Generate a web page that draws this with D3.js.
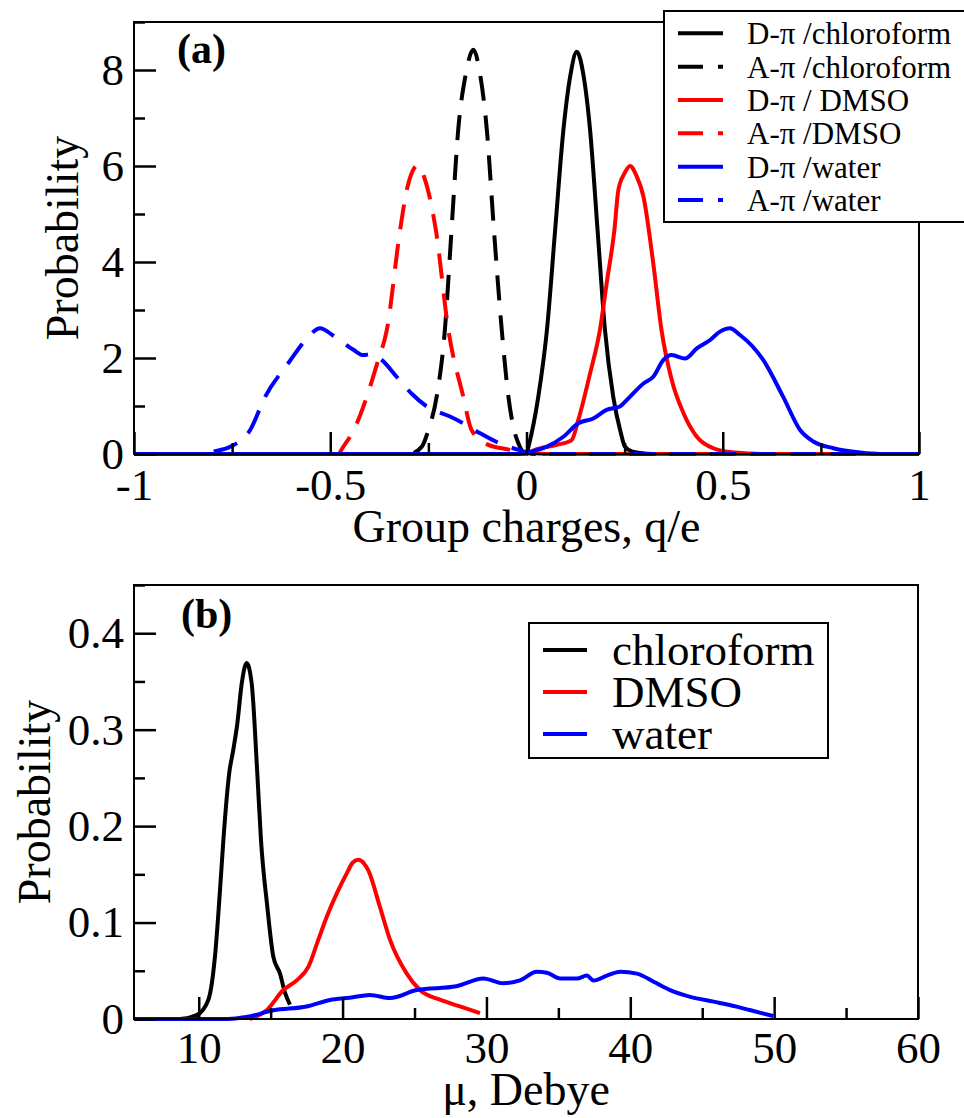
<!DOCTYPE html>
<html>
<head>
<meta charset="utf-8">
<script src="https://cdn.jsdelivr.net/npm/d3@7"></script>
<style>
  body { margin: 0; background: #fff; }
  svg { display: block; }
</style>
</head>
<body>
<svg width="964" height="1118"></svg>
<script>
const width = 964;
const height = 1118;
const serif = "'Liberation Serif', 'Times New Roman', serif";

// panel (a): group charge distributions [q/e, probability]
const dpiChloroform = [[-1,0],[0,0],[0.005,0.15],[0.03,1.19],[0.052,2.58],[0.073,4.67],[0.094,6.75],[0.112,7.9],[0.128,8.38],[0.145,7.9],[0.162,6.75],[0.181,4.67],[0.2,2.58],[0.221,1.19],[0.24,0.45],[0.251,0.15],[0.27,0.05],[0.29,0.02],[0.32,0],[1,0]];
const apiChloroform = [[-1,0],[-0.3,0],[-0.267,0.15],[-0.25,0.5],[-0.229,1.19],[-0.208,2.58],[-0.191,4.67],[-0.174,6.75],[-0.155,7.9],[-0.1355,8.42],[-0.118,7.9],[-0.101,6.75],[-0.083,4.67],[-0.063,2.58],[-0.046,1.19],[-0.033,0.55],[-0.021,0.23],[-0.005,0.02],[0.01,0],[1,0]];
const dpiDmso = [[-1,0],[0,0],[0.02,0.08],[0.077,0.19],[0.115,0.29],[0.132,0.71],[0.162,1.68],[0.187,2.58],[0.205,3.6],[0.224,4.67],[0.234,5.5],[0.25,5.85],[0.264,6.0],[0.28,5.8],[0.298,5.36],[0.323,3.97],[0.344,2.58],[0.37,1.54],[0.4,0.85],[0.434,0.36],[0.476,0.12],[0.53,0.03],[0.6,0],[1,0]];
const apiDmso = [[-1,0],[-0.48,0],[-0.467,0.15],[-0.44,0.5],[-0.407,1.19],[-0.38,1.9],[-0.356,2.58],[-0.322,4.67],[-0.305,5.5],[-0.29,5.9],[-0.276,6.02],[-0.26,5.75],[-0.231,4.67],[-0.199,2.58],[-0.161,1.19],[-0.14,0.5],[-0.1,0.2],[-0.05,0.1],[0,0.03],[0.05,0],[1,0]];
const dpiWater = [[-1,0],[-0.02,0],[0,0.03],[0.051,0.15],[0.094,0.36],[0.132,0.64],[0.17,0.74],[0.204,0.92],[0.238,0.99],[0.255,1.12],[0.298,1.47],[0.323,1.61],[0.349,1.96],[0.37,2.06],[0.404,1.99],[0.434,2.2],[0.468,2.375],[0.493,2.55],[0.518,2.62],[0.544,2.48],[0.575,2.25],[0.603,1.96],[0.654,1.19],[0.697,0.5],[0.731,0.26],[0.782,0.12],[0.85,0.03],[0.9,0],[1,0]];
const apiWater = [[-1,0],[-0.83,0],[-0.8,0.05],[-0.755,0.15],[-0.704,0.5],[-0.666,1.19],[-0.607,1.89],[-0.56,2.4],[-0.526,2.62],[-0.493,2.47],[-0.441,2.17],[-0.416,2.06],[-0.395,2.08],[-0.369,1.96],[-0.331,1.61],[-0.293,1.26],[-0.254,0.99],[-0.195,0.78],[-0.161,0.64],[-0.118,0.43],[-0.068,0.22],[-0.017,0.08],[0.02,0],[1,0]];

// panel (b): dipole moment distributions [Debye, probability]
const muChloroform = [[5.5,0],[8.7,0],[9.86,0.004],[10.67,0.02],[11.13,0.065],[11.48,0.134],[11.71,0.185],[12.12,0.255],[12.4,0.279],[12.68,0.306],[12.99,0.348],[13.33,0.369],[13.68,0.348],[14.07,0.255],[14.33,0.185],[14.77,0.116],[15.18,0.065],[15.65,0.047],[16.0,0.027],[16.34,0.015]];
const muDmso = [[13.56,0],[14.72,0.009],[15.88,0.03],[16.81,0.04],[17.62,0.054],[18.31,0.082],[18.9,0.106],[19.59,0.13],[20.29,0.151],[20.7,0.162],[21.1,0.165],[21.5,0.161],[21.79,0.154],[22.6,0.116],[23.3,0.082],[24.46,0.047],[25.38,0.03],[26.77,0.02],[28.16,0.013],[29.55,0.006]];
const muWater = [[5.5,0],[12,0],[13.3,0.002],[15.18,0.009],[17.5,0.013],[19.13,0.0197],[20.5,0.022],[21.9,0.025],[23.3,0.0217],[25.15,0.03],[27.9,0.034],[29.78,0.042],[31.17,0.037],[32.33,0.04],[33.5,0.049],[34.2,0.048],[35.13,0.042],[36.29,0.042],[36.98,0.045],[37.45,0.04],[38.38,0.045],[39.3,0.049],[40.46,0.047],[41.62,0.0387],[42.77,0.03],[44.17,0.023],[45.79,0.018],[47.4,0.0128],[48.3,0.0093],[49.94,0.003]];

// ticks
const xMajorA = [-1, -0.5, 0, 0.5, 1];
const xMinorA = [-0.75, -0.25, 0.25, 0.75];
const yMajorA = [0, 2, 4, 6, 8];
const yMinorA = [1, 3, 5, 7, 9];
const xMajorB = [10, 20, 30, 40, 50, 60];
const xMinorB = [15, 25, 35, 45, 55];
const yMajorB = [0, 0.1, 0.2, 0.3, 0.4];
const yMinorB = [0.05, 0.15, 0.25, 0.35, 0.45];

const seriesA = [
  { name: "D-\u03c0 /chloroform", data: dpiChloroform, color: "#000", dash: null },
  { name: "A-\u03c0 /chloroform", data: apiChloroform, color: "#000", dash: "25,15" },
  { name: "D-\u03c0 / DMSO", data: dpiDmso, color: "#f00", dash: null },
  { name: "A-\u03c0 /DMSO", data: apiDmso, color: "#f00", dash: "25,15" },
  { name: "D-\u03c0 /water", data: dpiWater, color: "#00f", dash: null },
  { name: "A-\u03c0 /water", data: apiWater, color: "#00f", dash: "25,15" }
];
const seriesB = [
  { name: "chloroform", data: muChloroform, color: "#000" },
  { name: "DMSO", data: muDmso, color: "#f00" },
  { name: "water", data: muWater, color: "#00f" }
];

const svg = d3.select("svg").attr("viewBox", `0 0 ${width} ${height}`);

function drawPanel(opt) {
  const x = d3.scaleLinear().domain(opt.xDomain).range([opt.left, opt.right]);
  const y = d3.scaleLinear().domain(opt.yDomain).range([opt.bottom, opt.top]);
  const g = svg.append("g");

  g.append("clipPath").attr("id", opt.id)
    .append("rect")
    .attr("x", opt.left).attr("y", opt.top)
    .attr("width", opt.right - opt.left).attr("height", opt.bottom - opt.top + 3);

  const line = d3.line().x(d => x(d[0])).y(d => y(d[1])).curve(d3.curveMonotoneX);

  g.append("g").attr("clip-path", `url(#${opt.id})`)
    .selectAll("path")
    .data(opt.series)
    .join("path")
    .attr("d", d => line(d.data))
    .attr("fill", "none")
    .attr("stroke", d => d.color)
    .attr("stroke-width", 4)
    .attr("stroke-linejoin", "round")
    .attr("stroke-dasharray", d => d.dash);

  // frame
  g.append("rect")
    .attr("x", opt.left).attr("y", opt.top)
    .attr("width", opt.right - opt.left).attr("height", opt.bottom - opt.top)
    .attr("fill", "none").attr("stroke", "#000").attr("stroke-width", 2);

  const styleAxis = sel => {
    sel.select(".domain").remove();
    sel.selectAll(".tick line").attr("stroke", "#000").attr("stroke-width", 2.5);
    sel.selectAll("text").attr("font-family", serif).attr("font-size", 45).attr("fill", "#000");
  };

  g.append("g").attr("transform", `translate(0,${opt.bottom})`)
    .call(d3.axisBottom(x).tickValues(opt.xMajor).tickSizeInner(-22).tickSizeOuter(0)
      .tickPadding(opt.xPad).tickFormat(opt.xFormat))
    .call(styleAxis);
  g.append("g").attr("transform", `translate(0,${opt.bottom})`)
    .call(d3.axisBottom(x).tickValues(opt.xMinor).tickSizeInner(-11).tickSizeOuter(0).tickFormat(""))
    .call(styleAxis);
  g.append("g").attr("transform", `translate(${opt.left},0)`)
    .call(d3.axisLeft(y).tickValues(opt.yMajor).tickSizeInner(-22).tickSizeOuter(0)
      .tickPadding(10).tickFormat(opt.yFormat))
    .call(styleAxis);
  g.append("g").attr("transform", `translate(${opt.left},0)`)
    .call(d3.axisLeft(y).tickValues(opt.yMinor).tickSizeInner(-11).tickSizeOuter(0).tickFormat(""))
    .call(styleAxis);

  // titles
  g.append("text")
    .attr("x", (opt.left + opt.right) / 2).attr("y", opt.xTitleY)
    .attr("text-anchor", "middle")
    .attr("font-family", serif).attr("font-size", 46)
    .text(opt.xTitle);
  g.append("text")
    .attr("transform", `translate(${opt.yTitleX},${(opt.top + opt.bottom) / 2}) rotate(-90)`)
    .attr("text-anchor", "middle")
    .attr("font-family", serif).attr("font-size", 46)
    .text("Probability");
  g.append("text")
    .attr("x", opt.tagX).attr("y", opt.tagY)
    .attr("font-family", serif).attr("font-size", 42).attr("font-weight", "bold")
    .text(opt.tag);
  return g;
}

drawPanel({
  id: "clipA", left: 134, right: 919, top: 22, bottom: 454,
  xDomain: [-1, 1], yDomain: [0, 9],
  xMajor: xMajorA, xMinor: xMinorA, yMajor: yMajorA, yMinor: yMinorA,
  xFormat: d => String(d), yFormat: d => String(d), xPad: 14,
  xTitle: "Group charges, q/e", xTitleY: 542, yTitleX: 78,
  tag: "(a)", tagX: 177, tagY: 63,
  series: seriesA
});

drawPanel({
  id: "clipB", left: 134, right: 918, top: 585, bottom: 1019,
  xDomain: [5.5, 60], yDomain: [0, 0.45],
  xMajor: xMajorB, xMinor: xMinorB, yMajor: yMajorB, yMinor: yMinorB,
  xFormat: d => String(d), yFormat: d => d === 0 ? "0" : d3.format(".1f")(d), xPad: 12,
  xTitle: "\u03bc, Debye", xTitleY: 1105, yTitleX: 50,
  tag: "(b)", tagX: 181, tagY: 628,
  series: seriesB
});

// legend (a)
const legA = svg.append("g");
legA.append("rect")
  .attr("x", 664).attr("y", 11).attr("width", 310).attr("height", 211)
  .attr("fill", "#fff").attr("stroke", "#000").attr("stroke-width", 2);
const rowA = legA.selectAll("g.row").data(seriesA).join("g")
  .attr("class", "row")
  .attr("transform", (d, i) => `translate(0,${33.3 + i * 33.35})`);
rowA.append("line")
  .attr("x1", 678).attr("x2", 723)
  .attr("stroke", d => d.color).attr("stroke-width", 4)
  .attr("stroke-dasharray", d => d.dash);
rowA.append("text")
  .attr("x", 747).attr("y", 11)
  .attr("font-family", serif).attr("font-size", 31)
  .text(d => d.name);

// legend (b)
const legB = svg.append("g");
legB.append("rect")
  .attr("x", 529).attr("y", 623).attr("width", 299).attr("height", 135)
  .attr("fill", "#fff").attr("stroke", "#000").attr("stroke-width", 2);
const rowB = legB.selectAll("g.row").data(seriesB).join("g")
  .attr("class", "row")
  .attr("transform", (d, i) => `translate(0,${650 + i * 42})`);
rowB.append("line")
  .attr("x1", 543).attr("x2", 587)
  .attr("stroke", d => d.color).attr("stroke-width", 4);
rowB.append("text")
  .attr("x", 612).attr("y", 15)
  .attr("font-family", serif).attr("font-size", 45)
  .text(d => d.name);
</script>
</body>
</html>
